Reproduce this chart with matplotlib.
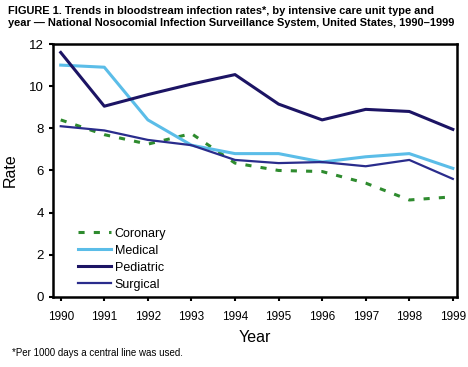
import matplotlib

matplotlib.use("Agg")

import matplotlib.pyplot as plt

plt.rcParams["font.family"] = ["Liberation Sans", "DejaVu Sans"]

years = [1990, 1991, 1992, 1993, 1994, 1995, 1996, 1997, 1998, 1999]
coronary = [8.4, 7.7, 7.25, 7.75, 6.35, 6.0, 5.95, 5.4, 4.6, 4.75]
medical = [11.0, 10.9, 8.4, 7.2, 6.8, 6.8, 6.4, 6.65, 6.8, 6.1]
pediatric = [11.6, 9.05, 9.6, 10.1, 10.55, 9.15, 8.4, 8.9, 8.8, 7.95]
surgical = [8.1, 7.9, 7.45, 7.2, 6.5, 6.35, 6.4, 6.2, 6.5, 5.6]

fig = plt.figure(figsize=(4.68, 3.67), dpi=100)
ax = fig.add_axes([0.113, 0.191, 0.863, 0.689])

ax.plot(years, coronary, color="#2e8b2e", linewidth=2.2, linestyle=(0, (2, 3)), label="Coronary")
ax.plot(years, medical, color="#5bbde8", linewidth=2.2, label="Medical")
ax.plot(years, pediatric, color="#1c1464", linewidth=2.2, label="Pediatric")
ax.plot(years, surgical, color="#2a2c8c", linewidth=1.6, label="Surgical")

ax.set_xlim(1989.82, 1999.09)
ax.set_ylim(0, 12)
ax.set_xticks(years)
ax.set_yticks(range(0, 13, 2))
ax.tick_params(direction="out", length=3, width=1.5, labelsize=8.5)
ax.tick_params(axis="x", pad=7)
ax.tick_params(axis="y", labelsize=9.5)
for s in ax.spines.values():
    s.set_linewidth(1.8)

ax.set_xlabel("Year", fontsize=11.5, labelpad=5)
ax.set_ylabel("Rate", fontsize=11.5, labelpad=8)

ax.legend(loc="lower left", bbox_to_anchor=(0.035, -0.02), frameon=False,
          fontsize=9, handlelength=2.6, labelspacing=0.4, handletextpad=0.3)

fig.text(0.017, 0.985, "FIGURE 1. Trends in bloodstream infection rates*, by intensive care unit type and\n"
         "year \u2014 National Nosocomial Infection Surveillance System, United States, 1990\u20131999",
         fontsize=7.9, fontweight="bold", va="top", ha="left", linespacing=1.3)
fig.text(0.025, 0.038, "*Per 1000 days a central line was used.", fontsize=7, ha="left", va="center")

fig.savefig("out.png", dpi=100)
plt.close(fig)
